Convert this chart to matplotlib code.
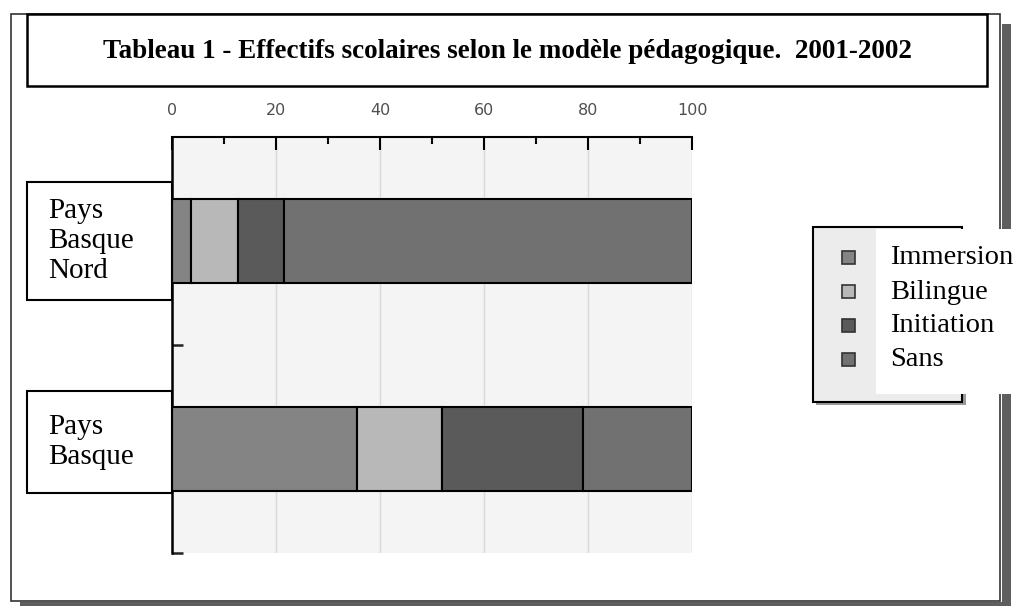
import matplotlib
matplotlib.use("Agg")
import matplotlib.pyplot as plt
from matplotlib.patches import Rectangle
import numpy as np

# ---- data ----
title = "Tableau 1 - Effectifs scolaires selon le modèle pédagogique.  2001-2002"
categories = ["Pays\nBasque\nNord", "Pays\nBasque"]
series_names = ["Immersion", "Bilingue", "Initiation", "Sans"]
immersion = [3.6, 35.5]
bilingue = [9.1, 16.5]
initiation = [8.9, 27.0]
sans = [78.4, 21.0]
xticks = [0, 20, 40, 60, 80, 100]
colors = ["#848484", "#b8b8b8", "#5a5a5a", "#717171"]

W, H = 1019, 606
fig = plt.figure(figsize=(W / 100, H / 100), dpi=100)
fig.patch.set_facecolor("white")

def px(x0, y0, x1, y1):
    """pixel box -> figure fraction rect"""
    return (x0 / W, 1 - y1 / H, (x1 - x0) / W, (y1 - y0) / H)

tr = fig.transFigure

def rect(x0, y0, x1, y1, fc="none", ec="black", lw=1.5, z=1):
    l, b, w, h = px(x0, y0, x1, y1)
    fig.patches.append(Rectangle((l, b), w, h, transform=tr, facecolor=fc,
                                 edgecolor=ec, linewidth=lw, zorder=z))

# outer frame shadows and frame
rect(1002, 24, 1011, 606, fc="#5e5e5e", ec="none", z=0)
rect(20, 602, 1011, 606, fc="#5e5e5e", ec="none", z=0)
rect(11, 14, 1000, 601, fc="white", ec="#333333", lw=1.2, z=0.5)

# title box
rect(27, 14, 987, 86, fc="white", ec="black", lw=1.8, z=2)
fig.text(507 / W, 1 - 51 / H, title, ha="center", va="center",
         fontsize=19.5, fontweight="bold", family="Liberation Serif", zorder=3)

# main axes
ax = fig.add_axes(px(172, 137, 692, 553))
ax.set_zorder(1)
ax.set_facecolor("#f4f4f4")
y = np.arange(len(categories))
left = np.zeros(len(categories))
for vals, c in zip([immersion, bilingue, initiation, sans], colors):
    ax.barh(y, vals, left=left, height=0.40, color=c, edgecolor="black",
            linewidth=1.5, zorder=3)
    left = left + np.array(vals)

ax.set_xlim(0, 100)
ax.set_ylim(1.5, -0.5)
ax.xaxis.tick_top()
ax.set_xticks(xticks)
ax.set_xticks([10, 30, 50, 70, 90], minor=True)
ax.set_xticklabels([str(t) for t in xticks], family="DejaVu Sans", fontsize=11.5,
                   color="#505050")
ax.tick_params(axis="x", which="major", direction="in", length=9, width=1.5,
               color="black", pad=14)
ax.tick_params(axis="x", which="minor", direction="in", length=5, width=1.5,
               color="black")
ax.set_yticks([0.5, 1.5])
ax.set_yticklabels([])
ax.tick_params(axis="y", direction="in", length=8, width=1.8, color="#222222")
ax.grid(axis="x", which="major", color="#d8d8d8", linewidth=1, zorder=0)
ax.set_axisbelow(True)
for s in ["right", "bottom"]:
    ax.spines[s].set_visible(False)
ax.spines["top"].set_linewidth(1.5)
ax.spines["left"].set_linewidth(1.8)

# category label boxes
label_boxes = [(27, 182, 172, 300), (27, 391, 172, 493)]
for (x0, y0, x1, y1), lab in zip(label_boxes, categories):
    rect(x0, y0, x1, y1, fc="white", ec="black", lw=1.5, z=2)
    fig.text(48 / W, 1 - ((y0 + y1) / 2) / H, lab, ha="left", va="center",
             fontsize=21, family="Liberation Serif", linespacing=1.22, zorder=3)

# legend
rect(816, 230, 966, 405, fc="#9a9a9a", ec="none", lw=0, z=2)
rect(813, 227, 962, 402, fc="#ececec", ec="black", lw=1.5, z=2)
rect(876, 229, 1019, 394, fc="white", ec="none", lw=0, z=2.5)
rows = [258, 292, 326, 360]
for name, c, ry in zip(series_names, colors, rows):
    rect(842, ry - 7, 855, ry + 6, fc=c, ec="#333333", lw=1.2, z=3)
    fig.text(890 / W, 1 - ry / H, name, ha="left", va="center", fontsize=20.5,
             family="Liberation Serif", zorder=3)

fig.savefig("out.png", dpi=100)
